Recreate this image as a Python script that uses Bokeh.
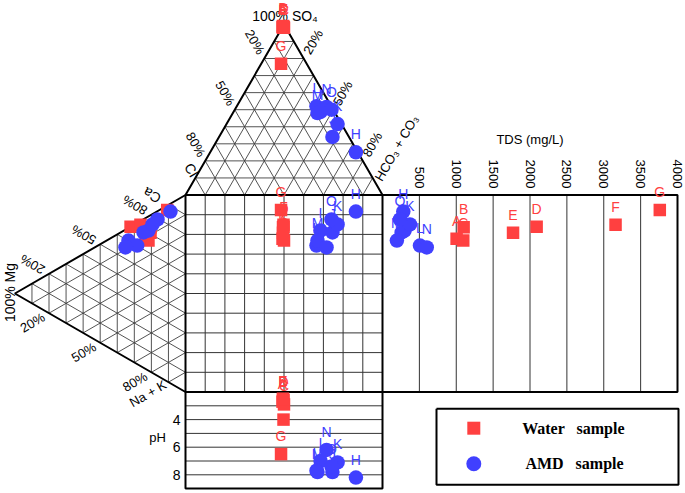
import numpy as np
from bokeh.plotting import figure
from bokeh.models import Range1d
from bokeh.core.properties import value
from bokeh.embed import file_html
from bokeh.resources import INLINE

# ---------------- data ----------------
water_ids  = ["A", "B", "C", "D", "E", "F", "G"]
water_so4  = [98.5, 99.0, 98.0, 98.5, 98.0, 98.5, 77.0]
water_cl   = [1.5, 1.0, 1.0, 1.0, 1.5, 1.0, 13.0]
water_hco3 = [0.0, 0.0, 1.0, 0.5, 0.5, 0.5, 10.0]
water_ca   = [66.1, 73.4, 66.0, 67.8, 70.6, 71.7, 87.0]
water_mg   = [23.4, 20.5, 21.7, 32.2, 20.5, 26.4, 10.7]
water_nak  = [10.5, 6.1, 12.3, 0.0, 8.9, 1.9, 2.3]
water_tds  = [1005, 1100, 1095, 2090, 1770, 3160, 3760]
water_ph   = [2.7, 2.5, 2.9, 2.6, 2.5, 4.0, 6.5]

amd_ids  = ["H", "I", "J", "K", "L", "M", "N", "O"]
amd_so4  = [25.0, 48.7, 34.0, 41.6, 52.0, 48.0, 51.6, 50.0]
amd_cl   = [1.0, 7.1, 8.4, 2.0, 7.5, 9.0, 2.6, 0.9]
amd_hco3 = [74.0, 44.2, 57.6, 56.4, 40.5, 43.0, 45.8, 49.1]
amd_ca   = [87.2, 71.1, 68.7, 75.4, 60.2, 60.2, 55.8, 79.4]
amd_mg   = [8.8, 21.7, 24.6, 19.3, 28.3, 33.4, 35.2, 16.4]
amd_nak  = [4.0, 7.2, 6.7, 5.3, 11.5, 6.4, 9.0, 4.2]
amd_tds  = [282, 300, 260, 373, 508, 195, 600, 237]
amd_ph   = [8.2, 7.0, 7.8, 7.1, 7.7, 7.8, 6.2, 7.4]

tds_ticks = [500, 1000, 1500, 2000, 2500, 3000, 3500, 4000]
ph_ticks = [4, 6, 8]
pct_ticks = [20, 50, 80]

# ---------------- layout ----------------
L = 197.0                  # side of the central square
H3 = L * np.sqrt(3) / 2    # height of the triangles
TDS_W = 295.0
TDS_MAX = 4000.0
PH_MIN, PH_MAX = 2, 9
PH_STEP = 13.8
FONT = "Liberation Sans"
RED = "#ff4040"
BLUE = "#4040ff"

V_CL, V_HCO3, V_SO4 = np.array([0.0, L]), np.array([L, L]), np.array([L / 2, L + H3])
V_CA, V_NAK, V_MG = np.array([0.0, L]), np.array([0.0, 0.0]), np.array([-H3, L / 2])


def anion_x(so4, cl, hco3):
    so4, cl, hco3 = map(np.asarray, (so4, cl, hco3))
    return L * (hco3 + so4 / 2) / (so4 + cl + hco3)


def anion_y(so4, cl, hco3):
    so4, cl, hco3 = map(np.asarray, (so4, cl, hco3))
    return L + H3 * so4 / (so4 + cl + hco3)


def cation_x(ca, mg, nak):
    ca, mg, nak = map(np.asarray, (ca, mg, nak))
    return -H3 * mg / (ca + mg + nak)


def cation_y(ca, mg, nak):
    ca, mg, nak = map(np.asarray, (ca, mg, nak))
    return L * (ca + mg / 2) / (ca + mg + nak)


def tds_x(tds):
    return L + np.asarray(tds) / TDS_MAX * TDS_W


def ph_y(ph):
    return -(np.asarray(ph) - PH_MIN) * PH_STEP


p = figure(width=685, height=493, x_range=Range1d(-185, 500), y_range=Range1d(-101.5, 391.5),
           output_backend="svg", toolbar_location=None, min_border=0,
           x_axis_location=None, y_axis_location=None)
p.grid.visible = False
p.outline_line_color = None
p.background_fill_color = "white"


def tri_grid(verts, n=10):
    xs, ys = [], []
    for k in range(3):
        a, b, c = verts[k], verts[(k + 1) % 3], verts[(k + 2) % 3]
        for i in range(1, n):
            t = i / n
            q1 = a * t + b * (1 - t)
            q2 = a * t + c * (1 - t)
            xs.append([q1[0], q2[0]])
            ys.append([q1[1], q2[1]])
    return xs, ys


# triangle grids
for verts in ([V_CL, V_HCO3, V_SO4], [V_CA, V_NAK, V_MG]):
    gx, gy = tri_grid(verts)
    p.multi_line(gx, gy, line_color="#404040", line_width=0.9)

# square grid
sq = [L * i / 10 for i in range(1, 10)]
p.multi_line([[v, v] for v in sq], [[0, L] for _ in sq], line_color="#333333", line_width=1)
p.multi_line([[0, L] for _ in sq], [[v, v] for v in sq], line_color="#333333", line_width=1)

# TDS panel vertical lines
tv = [float(tds_x(v)) for v in tds_ticks[:-1]]
p.multi_line([[v, v] for v in tv], [[0, L] for _ in tv], line_color="#333333", line_width=1)

# pH panel horizontal lines
ph_lines = [float(ph_y(v)) for v in range(PH_MIN + 1, PH_MAX)]
p.multi_line([[0, L] for _ in ph_lines], [[v, v] for v in ph_lines], line_color="#333333", line_width=1)

# borders
bw = 2
p.line([V_CL[0], V_SO4[0], V_HCO3[0]], [V_CL[1], V_SO4[1], V_HCO3[1]], line_color="black", line_width=bw)
p.line([V_CA[0], V_MG[0], V_NAK[0]], [V_CA[1], V_MG[1], V_NAK[1]], line_color="black", line_width=bw)
p.line([0, L, L, 0, 0], [0, 0, L, L, 0], line_color="black", line_width=bw)
p.line([L, L + TDS_W, L + TDS_W, L], [L, L, 0, 0], line_color="black", line_width=bw)
bot = float(ph_y(PH_MAX))
p.line([0, 0, L, L], [0, bot, bot, 0], line_color="black", line_width=bw)


def txt(x, y, s, size="13px", angle=0.0, align="center", baseline="middle",
        color="black", font=FONT, style="normal"):
    p.text(x=list(x), y=list(y), text=list(s), angle=angle, text_align=align,
           text_baseline=baseline, text_color=color, text_font=value(font),
           text_font_size=value(size), text_font_style=style)


OFF = 19.0
deg = np.pi / 180
pl = [f"{v}%" for v in pct_ticks]

# top triangle percent labels (Cl% on the left edge, HCO3% on the right edge)
lx, ly, rx, ry = [], [], [], []
for f in pct_ticks:
    q = V_SO4 + f / 100 * (V_CL - V_SO4) + OFF * np.array([-0.5, 0.866])
    lx.append(q[0]); ly.append(q[1])
    q = V_SO4 + f / 100 * (V_HCO3 - V_SO4) + OFF * np.array([0.5, 0.866])
    rx.append(q[0]); ry.append(q[1])
txt(lx, ly, pl, angle=-60 * deg)
txt(rx, ry, pl, angle=60 * deg)

# left triangle percent labels (Ca% on the upper edge, Na+K% on the lower edge)
cx, cy, bx, by = [], [], [], []
for f in pct_ticks:
    q = V_MG + f / 100 * (V_CA - V_MG) + OFF * np.array([-0.866, 0.5])
    cx.append(q[0]); cy.append(q[1])
    q = V_MG + f / 100 * (V_NAK - V_MG) + OFF * np.array([-0.866, -0.5])
    bx.append(q[0]); by.append(q[1])
txt(cx, cy, pl, angle=150 * deg)
txt(bx, by, pl, angle=30 * deg)

# vertex names
qca = V_MG + 0.9 * (V_CA - V_MG) + OFF * np.array([-0.866, 0.5])
txt([qca[0]], [qca[1]], ["Ca"], size="14px", angle=150 * deg)
qnk = V_MG + 0.9 * (V_NAK - V_MG) + OFF * np.array([-0.866, -0.5])
txt([qnk[0] - 4], [qnk[1] - 2], ["Na + K"], angle=30 * deg)
txt([-176], [99.5], ["100% Mg"], size="14px", angle=90 * deg)
txt([V_SO4[0] + 1], [V_SO4[1] + 8], ["100% SO₄"], size="14px")
txt([6], [222], ["Cl"], size="14px", angle=-60 * deg)
txt([211], [244], ["HCO₃ + CO₃"], angle=60 * deg)

# TDS labels
txt([float(tds_x(v)) for v in tds_ticks], [L + 6.5] * len(tds_ticks), [str(v) for v in tds_ticks],
    angle=-90 * deg, align="right")
txt([L + TDS_W / 2], [L + 56], ["TDS (mg/L)"])

# pH labels
txt([-5] * len(ph_ticks), [float(ph_y(v)) for v in ph_ticks], [str(v) for v in ph_ticks],
    size="14px", align="right")
txt([-28], [-45.5], ["pH"])


# ---------------- samples ----------------
def panels(so4, cl, hco3, ca, mg, nak, tds, ph):
    ax = anion_x(so4, cl, hco3)
    ay = anion_y(so4, cl, hco3)
    cxx = cation_x(ca, mg, nak)
    cyy = cation_y(ca, mg, nak)
    xs = np.concatenate([ax, cxx, ax, tds_x(tds), ax])
    ys = np.concatenate([ay, cyy, cyy, cyy, ph_y(ph)])
    return xs, ys


wx, wy = panels(water_so4, water_cl, water_hco3, water_ca, water_mg, water_nak, water_tds, water_ph)
ax_, ay_ = panels(amd_so4, amd_cl, amd_hco3, amd_ca, amd_mg, amd_nak, amd_tds, amd_ph)

# sample labels above the marks (not in the cation triangle, where the picture shows none)
LAB = 18.0
nw, na = len(water_ids), len(amd_ids)
keep_w = np.r_[0:nw, 2 * nw:5 * nw]
keep_a = np.r_[0:na, 2 * na:5 * na]
txt(wx[keep_w], wy[keep_w] + LAB, (water_ids * 5)[:nw] + water_ids * 3, size="14px", color=RED)
txt(ax_[keep_a], ay_[keep_a] + LAB, (amd_ids * 5)[:na] + amd_ids * 3, size="14px", color=BLUE)

p.scatter(wx, wy, marker="square", size=12.5, fill_color=RED, line_color=None)
p.scatter(ax_, ay_, marker="circle", size=14.5, fill_color=BLUE, line_color=None)

# ---------------- legend ----------------
lg_l, lg_r, lg_t, lg_b = L + 54, L + TDS_W + 1, -16.8, -92.8
p.line([lg_l, lg_r, lg_r, lg_l, lg_l], [lg_t, lg_t, lg_b, lg_b, lg_t], line_color="black", line_width=2)
p.scatter([L + 91.3], [-36.2], marker="square", size=13, fill_color=RED, line_color=None)
p.scatter([L + 91.3], [-71.8], marker="circle", size=15, fill_color=BLUE, line_color=None)
txt([L + 191], [-36.0], ["Water \u00a0 sample"], size="16px", font="Liberation Serif", style="bold")
txt([L + 192], [-71.5], ["AMD \u00a0 sample"], size="16px", font="Liberation Serif", style="bold")

open("out.html", "w").write(file_html(p, INLINE))
